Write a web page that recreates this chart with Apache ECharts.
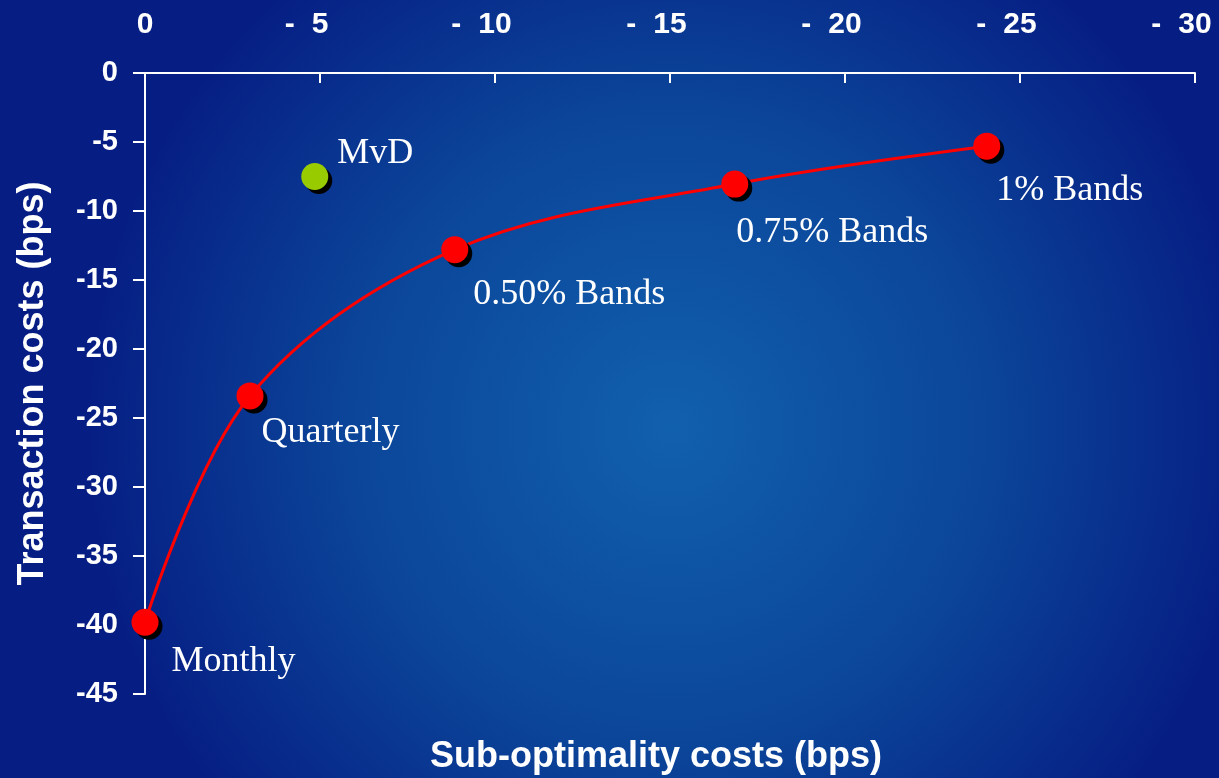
<!DOCTYPE html>
<html>
<head>
<meta charset="utf-8">
<script src="https://cdn.jsdelivr.net/npm/echarts@6/dist/echarts.min.js"></script>
<style>
  html, body { margin: 0; padding: 0; }
  #chart { width: 1219px; height: 778px; }
</style>
</head>
<body>
<div id="chart"></div>
<script>
// Rebalancing strategies: sub-optimality cost vs transaction cost (bps)
const strategyNames = ['Monthly', 'Quarterly', '0.50% Bands', '0.75% Bands', '1% Bands'];
const subOptimality = [0, -3.0, -8.85, -16.85, -24.05];
const transactionCosts = [-39.8, -23.4, -12.8, -8.05, -5.3];

const mvdName = 'MvD';
const mvdSubOptimality = -4.85;
const mvdTransaction = -7.5;

const xTicks = { min: -30, max: 0, step: 5 };
const yTicks = { min: -45, max: 0, step: 5 };

// label placement (pixels, relative to each marker's right edge / centre)
const labelOffsets = [[13, 39], [-2, 37], [5, 45], [-12, 48], [-4, 44]];
const mvdLabelOffset = [9, -23];

const markerSize = 27;
const serifFont = '"Liberation Serif", "DejaVu Serif", serif';
const sansFont = '"Liberation Sans", Arial, sans-serif';

const frontierData = strategyNames.map((n, i) => ({
  name: n,
  value: [subOptimality[i], transactionCosts[i]],
  label: { offset: labelOffsets[i] }
}));

// top-axis labels: minus sign hangs to the left, the number sits on the tick
const tickText = { color: '#ffffff', fontFamily: sansFont, fontWeight: 'bold', fontSize: 30 };
const xLabelRich = {
  d: Object.assign({ width: 27, align: 'left' }, tickText),
  n: Object.assign({}, tickText),
  p: Object.assign({ width: 27 }, tickText)
};

const chart = echarts.init(document.getElementById('chart'));
chart.setOption({
  animation: false,
  backgroundColor: {
    type: 'radial', x: 0.55, y: 0.55, r: 0.75,
    colorStops: [
      { offset: 0, color: '#1160ae' },
      { offset: 0.55, color: '#0b4599' },
      { offset: 1, color: '#061e84' }
    ]
  },
  grid: { left: 145, top: 73, right: 24, bottom: 84, containLabel: false, outerBoundsMode: 'none' },
  xAxis: {
    type: 'value',
    position: 'top',
    inverse: true,
    min: xTicks.min, max: xTicks.max, interval: xTicks.step,
    axisLine: { lineStyle: { color: '#ffffff', width: 2 } },
    axisTick: { inside: true, length: 10, lineStyle: { color: '#ffffff', width: 2 } },
    splitLine: { show: false },
    axisLabel: {
      color: '#ffffff', fontFamily: sansFont, fontWeight: 'bold', fontSize: 30, margin: 33,
      formatter: v => v === 0 ? '{n|0}' : '{d|-}{n|' + Math.abs(v) + '}{p|}',
      rich: xLabelRich
    }
  },
  yAxis: {
    type: 'value',
    min: yTicks.min, max: yTicks.max, interval: yTicks.step,
    name: 'Transaction costs (bps)',
    nameLocation: 'middle', nameRotate: 90, nameGap: 94,
    nameTextStyle: { color: '#ffffff', fontFamily: sansFont, fontWeight: 'bold', fontSize: 36 },
    axisLine: { lineStyle: { color: '#ffffff', width: 2 } },
    axisTick: { show: true, length: 12, lineStyle: { color: '#ffffff', width: 2 } },
    splitLine: { show: false },
    axisLabel: {
      color: '#ffffff', fontFamily: sansFont, fontWeight: 'bold', fontSize: 29, margin: 27
    }
  },
  graphic: [{
    type: 'text', left: 670 - 240, top: 739,
    style: {
      text: 'Sub-optimality costs (bps)', fill: '#ffffff',
      font: 'bold 36px ' + sansFont
    }
  }],
  series: [
    {
      type: 'line',
      data: frontierData,
      smooth: 0.35,
      symbol: 'circle',
      symbolSize: markerSize,
      lineStyle: { color: '#ff0000', width: 3 },
      itemStyle: {
        color: '#ff0000', borderWidth: 0, opacity: 1,
        shadowColor: '#000000', shadowOffsetX: 4, shadowOffsetY: 4, shadowBlur: 0
      },
      label: {
        show: true, position: 'right', distance: 0,
        formatter: p => p.name,
        color: '#ffffff', fontFamily: serifFont, fontSize: 36
      },
      z: 3
    },
    {
      type: 'scatter',
      data: [{ name: mvdName, value: [mvdSubOptimality, mvdTransaction] }],
      symbol: 'circle',
      symbolSize: markerSize,
      itemStyle: {
        color: '#99cc00', opacity: 1,
        shadowColor: '#000000', shadowOffsetX: 4, shadowOffsetY: 4, shadowBlur: 0
      },
      label: {
        show: true, position: 'right', distance: 0, offset: mvdLabelOffset,
        formatter: p => p.name,
        color: '#ffffff', fontFamily: serifFont, fontSize: 36
      },
      z: 3
    }
  ]
});
</script>
</body>
</html>
